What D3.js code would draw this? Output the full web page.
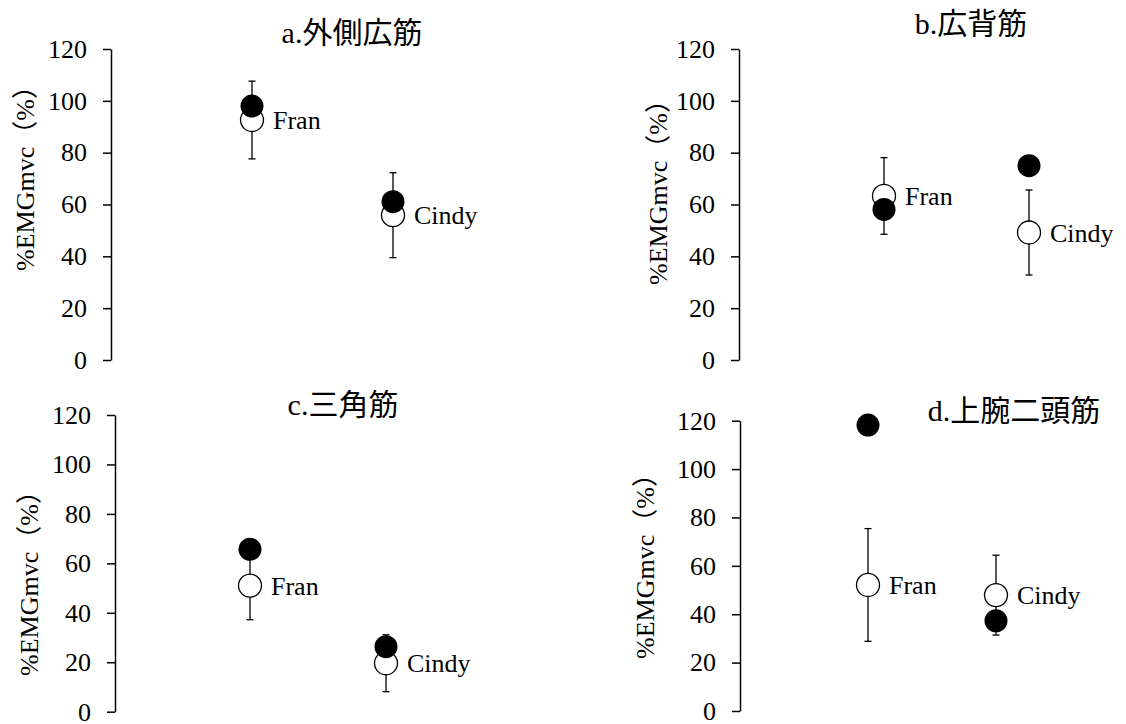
<!DOCTYPE html>
<html>
<head>
<meta charset="utf-8">
<script src="https://cdn.jsdelivr.net/npm/d3@7"></script>
<style>
  body { margin: 0; background: #fff; }
  .axis text { font-family: "Liberation Serif", "Times New Roman", serif; font-size: 26px; fill: #000; }
  .axis path, .axis line { stroke: #000; stroke-width: 1.5; }
</style>
</head>
<body>
<div id="chart"></div>
<script>
// values (%EMGmvc)
var titlePrefix = ["a.", "b.", "c.", "d."];
var titles = ["外側広筋", "広背筋", "三角筋", "上腕二頭筋"];
var subjects = ["Fran", "Cindy"];
var openMean = [[92.6, 55.9], [63.3, 49.2], [51.0, 19.6], [52.1, 47.9]];
var openSD = [[15.0, 16.4], [14.8, 16.4], [13.8, 11.5], [23.3, 16.5]];
var filledVal = [[98.0, 61.1], [58.1, 75.0], [65.7, 26.3], [118.2, 37.3]];
var yTicks = [0, 20, 40, 60, 80, 100, 120];

var width = 1126, height = 724;

// panel placement
var layout = [
  {ax: 111, top: 49, bottom: 360, fx: 252, cx: 393, tx: 352, ty: 32, lx: 25, ly: 172},
  {ax: 739, top: 49, bottom: 360, fx: 884, cx: 1029, tx: 971, ty: 23, lx: 658, ly: 186},
  {ax: 115, top: 415, bottom: 711.7, fx: 250, cx: 386, tx: 343, ty: 404, lx: 29, ly: 577},
  {ax: 740, top: 420.7, bottom: 711, fx: 868, cx: 996, tx: 1014, ty: 410, lx: 645, ly: 560}
];

var svg = d3.select("#chart").append("svg")
    .attr("width", width)
    .attr("height", height);

var r = 11.5, cap = 3.5;

titles.forEach(function(title, i) {
  var L = layout[i];
  var g = svg.append("g");

  var y = d3.scaleLinear().domain([0, 120]).range([L.bottom, L.top]);
  var x = d3.scalePoint().domain(subjects).range([L.fx, L.cx]);

  g.append("g")
      .attr("class", "axis")
      .attr("transform", "translate(" + L.ax + ",0)")
      .call(d3.axisLeft(y).tickValues(yTicks).tickSize(8).tickSizeOuter(0).tickPadding(16));

  g.append("text")
      .attr("transform", "translate(" + L.lx + "," + L.ly + ") rotate(-90)")
      .attr("text-anchor", "middle")
      .attr("dy", "0.35em")
      .style("font-family", "'Liberation Serif', 'Noto Sans CJK JP', serif")
      .style("font-size", "26px")
      .text("%EMGmvc（%）");

  var t = g.append("text")
      .attr("x", L.tx)
      .attr("y", L.ty)
      .attr("text-anchor", "middle")
      .attr("dy", "0.36em")
      .style("font-size", "30px");
  t.append("tspan")
      .style("font-family", "'Liberation Serif', serif")
      .text(titlePrefix[i]);
  t.append("tspan")
      .style("font-family", "'Noto Sans CJK JP', sans-serif")
      .text(title);

  var pts = subjects.map(function(s, j) {
    return {name: s, m: openMean[i][j], sd: openSD[i][j], f: filledVal[i][j]};
  });

  // error bars (behind circles)
  var eb = g.selectAll(".eb").data(pts).enter().append("g")
      .attr("stroke", "#000").attr("stroke-width", 1.3);
  eb.append("line")
      .attr("x1", d => x(d.name)).attr("x2", d => x(d.name))
      .attr("y1", d => y(d.m + d.sd)).attr("y2", d => y(d.m - d.sd));
  eb.append("line")
      .attr("x1", d => x(d.name) - cap).attr("x2", d => x(d.name) + cap)
      .attr("y1", d => y(d.m + d.sd)).attr("y2", d => y(d.m + d.sd));
  eb.append("line")
      .attr("x1", d => x(d.name) - cap).attr("x2", d => x(d.name) + cap)
      .attr("y1", d => y(d.m - d.sd)).attr("y2", d => y(d.m - d.sd));

  g.selectAll(".open").data(pts).enter().append("circle")
      .attr("cx", d => x(d.name))
      .attr("cy", d => y(d.m))
      .attr("r", r)
      .attr("fill", "#fff")
      .attr("stroke", "#000")
      .attr("stroke-width", 1.3);

  g.selectAll(".filled").data(pts).enter().append("circle")
      .attr("cx", d => x(d.name))
      .attr("cy", d => y(d.f))
      .attr("r", r)
      .attr("fill", "#000");

  g.selectAll(".lbl").data(pts).enter().append("text")
      .attr("x", d => x(d.name) + 21)
      .attr("y", d => y(d.m))
      .attr("dy", "0.35em")
      .style("font-family", "'Liberation Serif', 'Times New Roman', serif")
      .style("font-size", "26px")
      .text(d => d.name);
});
</script>
</body>
</html>
